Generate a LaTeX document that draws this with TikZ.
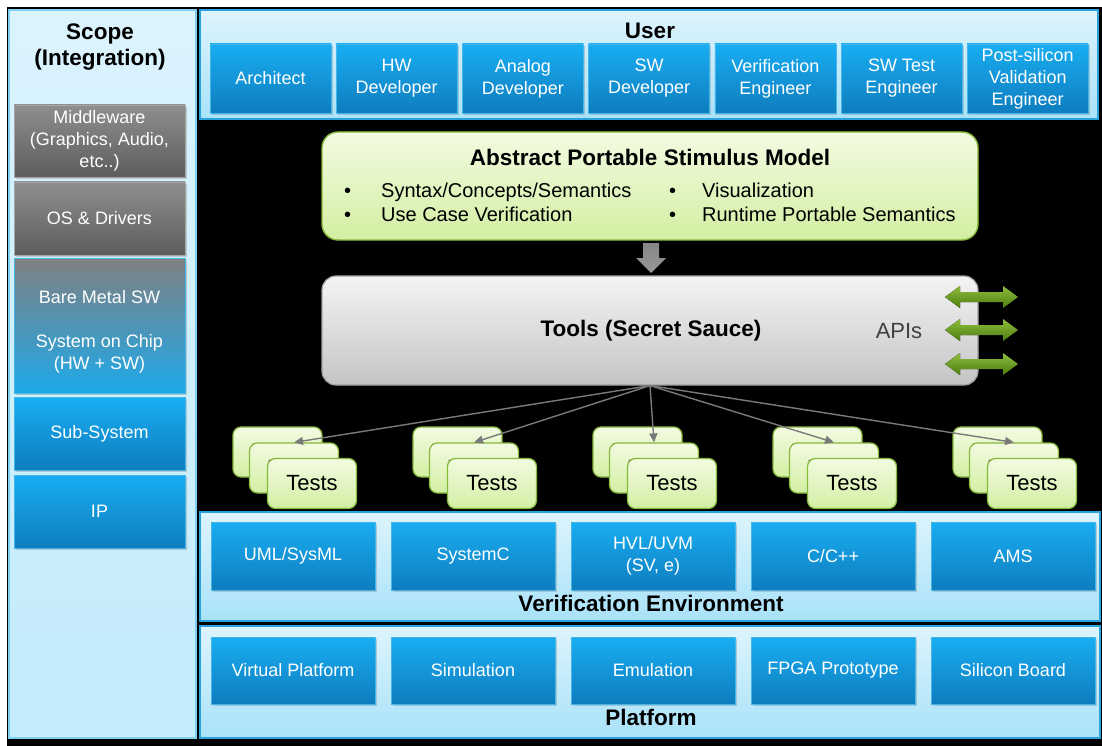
\documentclass[tikz,border=0pt]{standalone}
\usepackage{fontspec}
\setmainfont{Liberation Sans}
\usetikzlibrary{shadows,arrows.meta,calc}

\definecolor{panelTop}{HTML}{DDF4FD}
\definecolor{panelBot}{HTML}{A9E2F9}
\definecolor{panelEdge}{HTML}{2AA3DD}
\definecolor{scopeTop}{HTML}{DBF3FD}
\definecolor{scopeBot}{HTML}{C2EBFB}
\definecolor{scopeEdge}{HTML}{7FD0F1}
\definecolor{blueTop}{HTML}{19ADF2}
\definecolor{blueBot}{HTML}{0E7DBE}
\definecolor{blueEdge}{HTML}{45B6EA}
\definecolor{grayTop}{HTML}{8E8E8E}
\definecolor{grayBot}{HTML}{5D5D5D}
\definecolor{mixTop}{HTML}{808080}
\definecolor{mixBot}{HTML}{1EA9EA}
\definecolor{greenTop}{HTML}{F3FBE2}
\definecolor{greenBot}{HTML}{D2EFA2}
\definecolor{greenEdge}{HTML}{86B83A}
\definecolor{toolTop}{HTML}{F4F4F4}
\definecolor{toolBot}{HTML}{C4C4C4}
\definecolor{toolEdge}{HTML}{A0A0A0}
\definecolor{apiTop}{HTML}{8EBD3C}
\definecolor{apiBot}{HTML}{4C7D10}
\definecolor{fanGray}{HTML}{7A7A7A}

\newcommand\fBox{\fontsize{18}{22}\selectfont}
\newcommand\fHead{\fontsize{22.5}{26}\selectfont\bfseries}
\newcommand\fBul{\fontsize{20}{24}\selectfont}
\newcommand\fTests{\fontsize{22}{26}\selectfont}

\tikzset{
  panel/.style={draw=panelEdge, line width=1.2pt, top color=panelTop, bottom color=panelBot},
  scopepanel/.style={draw=scopeEdge, line width=1.2pt, top color=scopeTop, bottom color=scopeBot},
  tile/.style={inner sep=0pt, align=center, text=white, font=\fBox, line width=0.6pt,
    drop shadow={opacity=0.35, shadow xshift=1.5pt, shadow yshift=-2pt}},
  bluebox/.style={tile, draw=blueEdge, top color=blueTop, bottom color=blueBot},
  graybox/.style={tile, draw=gray!70, top color=grayTop, bottom color=grayBot},
  mixbox/.style={tile, draw=blueEdge, top color=mixTop, bottom color=mixBot},
  heading/.style={font=\fHead, align=center, text=black},
  testcard/.style={draw=greenEdge, line width=1.2pt, top color=greenTop, bottom color=greenBot,
    rounded corners=8pt, minimum width=89pt, minimum height=50pt, inner sep=0pt, font=\fTests},
  fan/.style={draw=fanGray, line width=1.4pt, -{Triangle[length=9pt,width=8pt]}},
  apiarrow/.style={top color=apiTop, bottom color=apiBot},
}

\begin{document}
\begin{tikzpicture}[x=1pt,y=-1pt]
  % page and black backdrop
  \fill[white] (0,0) rectangle (1102,746);
  \fill[black] (7,7) rectangle (1102,746);
  \useasboundingbox (0,0) rectangle (1102,746);

  % ---------- Scope column ----------
  \path[scopepanel] (9,10) rectangle (196,738);
  \node[heading] (scopeT) at (100,47) {Scope\\(Integration)};
  \node[graybox, minimum width=171pt, minimum height=72pt] (mw) at (99.5,141)
    {Middleware\\(Graphics, Audio,\\etc..)};
  \node[graybox, minimum width=171pt, minimum height=73pt] (os) at (99.5,218.5) {OS \& Drivers};
  \node[mixbox, minimum width=171pt, minimum height=135pt] (bm) at (99.5,325.5)
    {\rule{0pt}{26pt}Bare Metal SW\\[22pt]System on Chip\\(HW + SW)};
  \node[bluebox, minimum width=171pt, minimum height=73pt] (ss) at (99.5,433.5) {Sub-System};
  \node[bluebox, minimum width=171pt, minimum height=73pt] (ip) at (99.5,511.5) {IP};

  % ---------- User row ----------
  \path[panel] (200,10) rectangle (1098,119);
  \node[heading] (userT) at (650,31) {User};
  \foreach \n/\t [count=\i from 0] in {
      u1/{Architect}, u2/{HW\\Developer}, u3/{Analog\\Developer}, u4/{SW\\Developer},
      u5/{Verification\\Engineer}, u6/{SW Test\\Engineer}, u7/{Post-silicon\\Validation\\Engineer}}
    \node[bluebox, minimum width=121pt, minimum height=69pt] (\n) at (270.5+126.2*\i,78.5) {\t};

  % ---------- Abstract model ----------
  \node[draw=greenEdge, line width=1.4pt, top color=greenTop, bottom color=greenBot,
        rounded corners=16pt, minimum width=656pt, minimum height=108pt] (apsm) at (650,186) {};
  \node[heading] (apsmT) at (650,157) {Abstract Portable Stimulus Model};
  \node[font=\fBul, align=left, anchor=west, inner sep=0pt] (apsmB) at (344,202)
    {\makebox[37pt][l]{•}\makebox[288pt][l]{Syntax/Concepts/Semantics}\makebox[33pt][l]{•}Visualization\\
     \makebox[37pt][l]{•}\makebox[288pt][l]{Use Case Verification}\makebox[33pt][l]{•}Runtime Portable Semantics};

  % block arrow from the model down to the tools
  \fill[top color=gray!95, bottom color=gray!120!black]
    (643,243) -- (659,243) -- (659,258) -- (666,258) -- (651,273) -- (636,258) -- (643,258) -- cycle;

  % ---------- Tools ----------
  \node[draw=toolEdge, line width=1.2pt, top color=toolTop, bottom color=toolBot,
        rounded corners=14pt, minimum width=656pt, minimum height=109pt] (tools) at (650,330.5) {};
  \node[heading] (toolsT) at (651,331) {Tools (Secret Sauce)};
  \node[font=\fontsize{22}{26}\selectfont, text=black!75] (apis) at (899,331) {APIs};
  \foreach \c in {297,330,364}
    \fill[apiarrow] (945,\c) -- (960,\c-11) -- (960,\c-5) -- (1003,\c-5) -- (1003,\c-11)
      -- (1018,\c) -- (1003,\c+11) -- (1003,\c+5) -- (960,\c+5) -- (960,\c+11) -- cycle;

  % ---------- Test stacks ----------
  \foreach \i in {0,...,4} {
    \node[testcard] (tback\i) at (277.5+180*\i,452) {Tests};
    \node[testcard] (tmid\i)  at (294+180*\i,468)   {Tests};
    \node[testcard] (tfront\i) at (312+180*\i,483.5) {Tests};
  }
  \foreach \i in {0,...,4}
    \draw[fan] (tools.south) -- (tmid\i.north);

  % ---------- Verification environment ----------
  \path[panel] (200,512) rectangle (1100,621);
  \foreach \n/\t [count=\i from 0] in {v1/{UML/SysML}, v2/{SystemC}, v3/{HVL/UVM\\(SV, e)},
      v4/{C/C++}, v5/{AMS}}
    \node[bluebox, minimum width=164pt, minimum height=68pt] (\n) at (293+180*\i,556) {\t};
  \node[heading] (envT) at (651,603) {Verification Environment};

  % ---------- Platform ----------
  \path[panel] (200,626) rectangle (1100,738);
  \foreach \n/\t [count=\i from 0] in {p1/{Virtual Platform}, p2/{Simulation}, p3/{Emulation},
      p4/{FPGA Prototype}, p5/{Silicon Board}}
    \node[bluebox, minimum width=164pt, minimum height=67pt] (\n) at (293+180*\i,670.5) {\t};
  \node[heading] (platT) at (651,717) {Platform};
\end{tikzpicture}
\end{document}
